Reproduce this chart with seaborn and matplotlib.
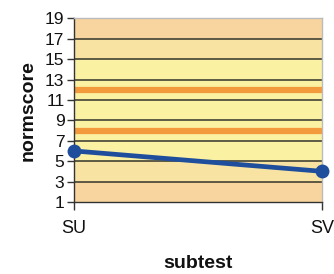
import seaborn as sns
import matplotlib.pyplot as plt
import pandas as pd

# data
subtests = ["SU", "SV"]
normscores = [6, 4]
norm_limits = [8, 12]          # orange reference lines
y_ticks = [1, 3, 5, 7, 9, 11, 13, 15, 17, 19]

sns.set_theme(style="white")
plt.rcParams['font.family'] = ['Liberation Sans', 'DejaVu Sans']

df = pd.DataFrame({"subtest": subtests, "normscore": normscores})

fig = plt.figure(figsize=(3.34, 2.74), dpi=100)
ax = fig.add_axes([0.222, 0.263, 0.742, 0.670])

# background bands
peach = "#F8D59E"
tan = "#F9E3A2"
yellow = "#FBF1A2"
ax.axhspan(1, 3, color=peach, lw=0, zorder=0)
ax.axhspan(3, 5, color=tan, lw=0, zorder=0)
ax.axhspan(5, 15, color=yellow, lw=0, zorder=0)
ax.axhspan(15, 17, color=tan, lw=0, zorder=0)
ax.axhspan(17, 19, color=peach, lw=0, zorder=0)

for t in y_ticks[1:-1]:
    ax.axhline(t, color="#33332a", lw=1.1, zorder=1)

for v in norm_limits:
    ax.axhline(v, color="#F39A3C", lw=4.5, zorder=2)

sns.lineplot(data=df, x="subtest", y="normscore", ax=ax, color="#1F4F9C",
             lw=3.4, marker="o", markersize=10, markeredgewidth=0,
             clip_on=False, zorder=3)

ax.set_xlim(0, 1)
ax.set_ylim(1, 19)
ax.set_yticks(y_ticks)
ax.set_yticklabels([str(t) for t in y_ticks])
ax.set_xticks([0, 1])
ax.set_xticklabels(subtests)

ax.tick_params(axis="y", left=True, length=5, width=1, color="#333333",
               labelsize=12.5, pad=2, labelcolor="#111111")
ax.tick_params(axis="x", bottom=True, length=6, width=1, color="#333333",
               labelsize=13, pad=7, labelcolor="#111111")

for side in ["left", "bottom"]:
    ax.spines[side].set_color("#333333")
    ax.spines[side].set_linewidth(1.0)
for side in ["top", "right"]:
    ax.spines[side].set_color("#bbbbbb")
    ax.spines[side].set_linewidth(1.0)

ax.set_ylabel("normscore", fontsize=14, fontweight="bold", labelpad=6,
              color="#111111")
ax.set_xlabel("subtest", fontsize=14, fontweight="bold", labelpad=13,
              color="#111111")

fig.savefig("out.png", dpi=100)
